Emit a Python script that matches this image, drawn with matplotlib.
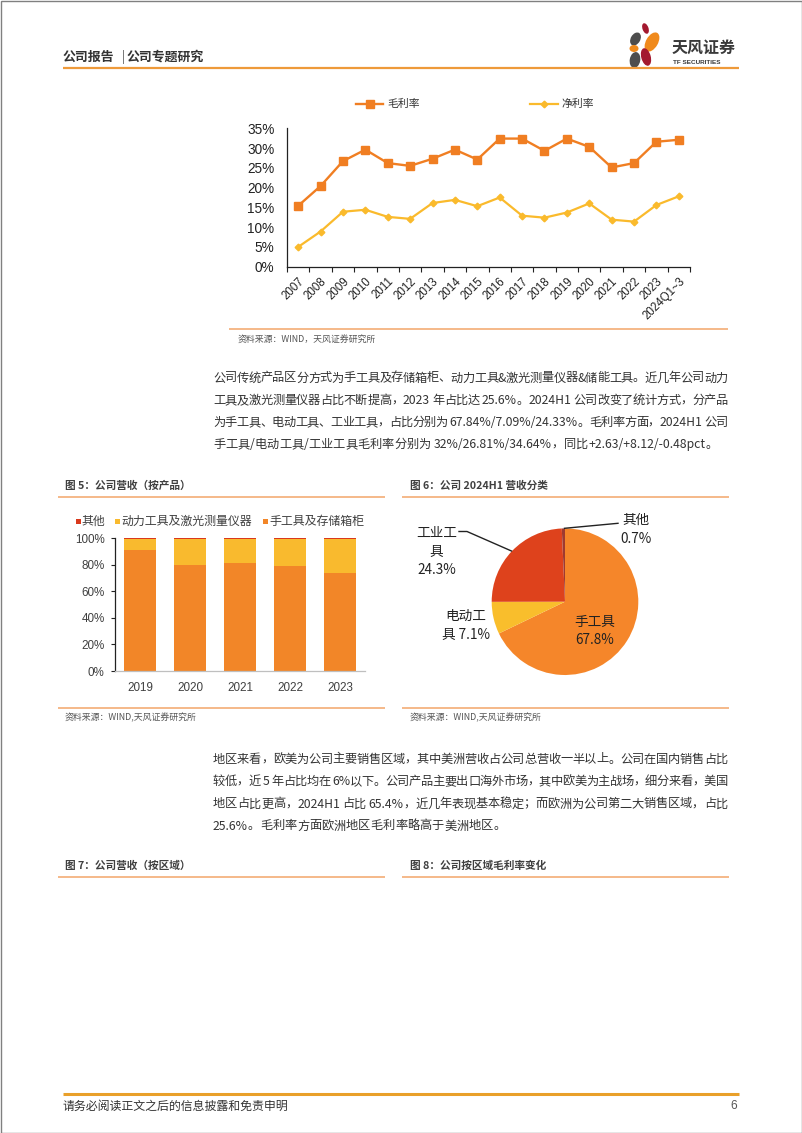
import re
import matplotlib
matplotlib.use('Agg')
import matplotlib.pyplot as plt
from matplotlib.patches import Rectangle, Ellipse
from matplotlib.font_manager import FontProperties
import numpy as np

plt.rcParams['font.family'] = ['Noto Sans CJK SC', 'DejaVu Sans']
plt.rcParams['axes.unicode_minus'] = False

NUM_FONT = ['Liberation Sans', 'Noto Sans CJK SC', 'DejaVu Sans']
CJK_FONT = ['Noto Sans CJK SC', 'DejaVu Sans']

# ---------------- data ----------------
margin_years = ['2007', '2008', '2009', '2010', '2011', '2012', '2013', '2014', '2015',
                '2016', '2017', '2018', '2019', '2020', '2021', '2022', '2023', '2024Q1~3']
gross_margin = [15.4, 20.4, 26.7, 29.6, 26.2, 25.5, 27.3, 29.6, 27.1,
                32.4, 32.4, 29.3, 32.4, 30.3, 25.1, 26.2, 31.6, 32.1]
net_margin = [5.0, 8.9, 13.9, 14.4, 12.6, 12.1, 16.1, 16.9, 15.3,
              17.5, 12.9, 12.4, 13.7, 16.0, 11.9, 11.4, 15.6, 17.8]
margin_series_names = ['毛利率', '净利率']
margin_yticks = [0, 5, 10, 15, 20, 25, 30, 35]

product_years = ['2019', '2020', '2021', '2022', '2023']
hand_tool_share = [91.2, 79.8, 81.4, 79.1, 73.6]
power_tool_share = [8.3, 19.7, 17.8, 20.2, 25.6]
other_share = [0.5, 0.5, 0.8, 0.7, 0.8]
product_series_names = ['其他', '动力工具及激光测量仪器', '手工具及存储箱柜']
share_yticks = [0, 20, 40, 60, 80, 100]

pie_names = ['手工具', '电动工具', '工业工具', '其他']
pie_shares = [67.8, 7.1, 24.3, 0.7]

# ---------------- colours ----------------
C_GROSS = '#F07E22'
C_NET = '#FABA2C'
C_HAND = '#F28628'
C_POWER = '#F9BA2E'
C_OTHER = '#D9391C'
PIE_COLORS = ['#F5862A', '#F9BE2C', '#DE421C', '#9E3A30']
C_SECTION = '#F3A66A'
C_TEXT = '#333333'

W, H = 802, 1133
fig = plt.figure(figsize=(W / 100, H / 100), dpi=100, facecolor='white')


def page_axes(z):
    a = fig.add_axes([0, 0, 1, 1], zorder=z)
    a.set_xlim(0, W)
    a.set_ylim(H, 0)
    a.axis('off')
    a.set_facecolor('none')
    return a


P = page_axes(0)      # background layer
T = page_axes(10)     # overlay layer (labels over the charts)
renderer = fig.canvas.get_renderer()


def px_axes(l, t, r, b):
    a = fig.add_axes([l / W, 1 - b / H, (r - l) / W, (b - t) / H], zorder=2)
    a.set_facecolor('none')
    return a


def hline(x0, x1, y, color, lw):
    P.plot([x0, x1], [y, y], color=color, lw=lw, solid_capstyle='butt')


def text_w(s, fs):
    prop = FontProperties(family=CJK_FONT, size=fs)
    w, h, d = renderer.get_text_width_height_descent(s, prop, ismath=False)
    return w


def adv(s, fs):
    if not s:
        return 0.0
    return text_w(s + '国', fs) - text_w('国', fs)


def is_han(ch):
    return len(ch) == 1 and '\u4e00' <= ch <= '\u9fff'


def para_line(s, y, x0, x1, fs=8.8, color=C_TEXT, justify=True):
    spans = [(m.start(), m.group()) for m in
             re.finditer(r'[A-Za-z0-9.%/+\-~&]+| +|.', s)]
    n = len(spans)
    total = adv(s, fs)
    gap = (x1 - x0 - total) / (n - 1) if (justify and n > 1) else 0.0
    for i, (st, tk) in enumerate(spans):
        if tk.isspace():
            continue
        xx = x0 + adv(s[:st], fs) + i * gap
        if is_han(tk):
            P.text(xx + adv(tk, fs) / 2, y, tk, fontsize=fs, color=color, ha='center',
                   va='center', family=CJK_FONT)
        else:
            P.text(xx, y, tk, fontsize=fs, color=color, ha='left', va='center',
                   family=CJK_FONT)


# ---------------- page frame, header, footer ----------------
P.add_patch(Rectangle((0.5, 0.5), W - 1, H - 1, fill=False, ec='#808080', lw=1.0))
P.text(63, 56.5, '公司报告', fontsize=9.3, fontweight='bold', color=C_TEXT, va='center')
P.plot([122.5, 122.5], [50, 63], color='#777777', lw=0.7)
P.text(127, 56.5, '公司专题研究', fontsize=9.3, fontweight='bold', color=C_TEXT, va='center')
hline(63, 739, 68.3, '#EE9A3A', 1.6)

# logo
petals = [((645.5, 28.5), 6, 11, -20, '#A3192F'),
          ((652, 42), 12, 21, 30, '#F08A1C'),
          ((635.5, 39), 9.5, 14, 30, '#4D4D4D'),
          ((634, 48.5), 9, 7, 0, '#F08A1C'),
          ((646, 57), 9.5, 18, -15, '#A3192F'),
          ((635, 60), 10.5, 16, 10, '#4D4D4D')]
for c, w, h, ang, col in petals:
    P.add_patch(Ellipse(c, w, h, angle=ang, color=col, lw=0))
P.text(672, 48, '天风证券', fontsize=11.5, fontweight='bold', color='#3A3A3A', va='center')
P.text(673, 62.7, 'TF SECURITIES', fontsize=4.6, fontweight='bold', color='#3A3A3A',
       va='center', family=NUM_FONT)

hline(63, 739, 1094, '#E9A02A', 2.2)
P.text(63, 1106, '请务必阅读正文之后的信息披露和免责申明', fontsize=8.6, color=C_TEXT, va='center')
P.text(737, 1106, '6', fontsize=8.6, color='#555555', va='center', ha='right', family=NUM_FONT)

# ---------------- chart 1: margins ----------------
ax1 = px_axes(287, 128.3, 690, 266.7)
x = np.arange(len(margin_years))
ax1.plot(x, gross_margin, color=C_GROSS, lw=1.7, marker='s', ms=5.8, mfc=C_GROSS, mec=C_GROSS,
         zorder=3)
ax1.plot(x, net_margin, color=C_NET, lw=1.6, marker='D', ms=3.4, mfc=C_NET, mec=C_NET, zorder=3)
ax1.set_xlim(-0.5, len(margin_years) - 0.5)
ax1.set_ylim(margin_yticks[0], margin_yticks[-1])
ax1.set_yticks(margin_yticks)
ax1.set_yticklabels([f'{v}%' for v in margin_yticks], fontsize=9.8, family=NUM_FONT, color='#222222')
ax1.tick_params(axis='y', length=0, pad=9)
ax1.set_xticks(x)
ax1.set_xticklabels(margin_years, rotation=45, ha='right', va='top', rotation_mode='anchor',
                    fontsize=8.3, family=NUM_FONT, color='#222222')
ax1.tick_params(axis='x', which='major', length=0, pad=6)
ax1.set_xticks(np.arange(-0.5, len(margin_years)), minor=True)
ax1.tick_params(axis='x', which='minor', length=3.5, width=0.8, direction='out', color='#222222')
for s in ['top', 'right']:
    ax1.spines[s].set_visible(False)
for s in ['left', 'bottom']:
    ax1.spines[s].set_color('#222222')
    ax1.spines[s].set_linewidth(0.9)

# legend
P.plot([356, 383], [104, 104], color=C_GROSS, lw=1.7)
P.plot([369.5], [104], marker='s', ms=5.8, color=C_GROSS)
P.text(387, 104, margin_series_names[0], fontsize=7.8, color=C_TEXT, va='center')
P.plot([530, 558], [104, 104], color=C_NET, lw=1.6)
P.plot([544], [104], marker='D', ms=3.4, color=C_NET)
P.text(561, 104, margin_series_names[1], fontsize=7.8, color=C_TEXT, va='center')

hline(229, 728, 329, C_SECTION, 1.1)
P.text(238, 340, '资料来源：WIND，天风证券研究所', fontsize=6.4, color='#555555', va='center')

# ---------------- paragraph 1 ----------------
p1 = ['公司传统产品区分方式为手工具及存储箱柜、动力工具&激光测量仪器&储能工具。近几年公司动力',
      '工具及激光测量仪器占比不断提高，2023 年占比达 25.6%。2024H1 公司改变了统计方式，分产品',
      '为手工具、电动工具、工业工具，占比分别为 67.84%/7.09%/24.33%。毛利率方面，2024H1 公司',
      '手工具/电动工具/工业工具毛利率分别为 32%/26.81%/34.64%，同比+2.63/+8.12/-0.48pct。']
for i, (s, y) in enumerate(zip(p1, [378, 400.5, 422.5, 444.5])):
    para_line(s, y, 213, 728, justify=(i < len(p1) - 1))

# ---------------- figure 5 / 6 titles ----------------
P.text(65, 486, '图 5：公司营收（按产品）', fontsize=7.7, fontweight='bold', color='#404040', va='center')
hline(58, 385, 496.7, C_SECTION, 1.1)
P.text(410, 486, '图 6：公司 2024H1 营收分类', fontsize=7.7, fontweight='bold', color='#404040', va='center')
hline(402, 729, 496.7, C_SECTION, 1.1)

# ---------------- chart 2: stacked bars ----------------
ax2 = px_axes(115, 538.3, 365, 671)
xb = np.arange(len(product_years))
ax2.bar(xb, hand_tool_share, width=0.64, color=C_HAND, lw=0, zorder=2)
ax2.bar(xb, power_tool_share, width=0.64, bottom=hand_tool_share, color=C_POWER, lw=0, zorder=2)
bottom2 = [a + b for a, b in zip(hand_tool_share, power_tool_share)]
ax2.bar(xb, other_share, width=0.64, bottom=bottom2, color=C_OTHER, lw=0, zorder=2)
ax2.set_xlim(-0.5, len(product_years) - 0.5)
ax2.set_ylim(0, 100)
ax2.set_yticks(share_yticks)
ax2.set_yticklabels([f'{v}%' for v in share_yticks], fontsize=8.4, family=NUM_FONT, color='#404040')
ax2.tick_params(axis='y', length=3, width=0.8, direction='out', pad=4.5, color='#222222')
ax2.set_xticks(xb)
ax2.set_xticklabels(product_years, fontsize=8.4, family=NUM_FONT, color='#404040')
ax2.tick_params(axis='x', length=0, pad=8)
for s in ['top', 'right']:
    ax2.spines[s].set_visible(False)
ax2.spines['left'].set_color('#222222')
ax2.spines['left'].set_linewidth(0.9)
ax2.spines['bottom'].set_color('#BFBFBF')
ax2.spines['bottom'].set_linewidth(0.9)

# bar legend
leg_items = [(76, 81.5, C_OTHER), (115, 121.5, C_POWER), (262.5, 269, C_HAND)]
for (sx, tx, col), name in zip(leg_items, product_series_names):
    P.add_patch(Rectangle((sx, 518.8), 5.4, 5.4, color=col, lw=0))
    P.text(tx, 521.7, name, fontsize=8.6, color='#404040', va='center')

hline(58, 385, 708, C_SECTION, 1.1)
P.text(65, 718, '资料来源：WIND,天风证券研究所', fontsize=6.4, color='#555555', va='center')

# ---------------- chart 3: pie ----------------
cx, cy, r = 565, 601.7, 73.3
ax3 = px_axes(cx - r, cy - r, cx + r, cy + r)
ax3.pie(pie_shares, colors=PIE_COLORS, startangle=90, counterclock=False, radius=1,
        wedgeprops=dict(linewidth=0))
ax3.set_xlim(-1, 1)
ax3.set_ylim(-1, 1)
ax3.axis('off')

lbl_fs = 9.8
# 工业工具
T.text(436.5, 551.5, f'{pie_names[2][:3]}\n{pie_names[2][3:]}\n{pie_shares[2]:.1f}%',
       fontsize=lbl_fs, color='#222222', ha='center', va='center', linespacing=1.45,
       family=CJK_FONT)
T.plot([459, 467, 511.5], [531.5, 531.5, 551], color='#222222', lw=1.0)
# 其他
T.text(636, 529.5, f'{pie_names[3]}\n{pie_shares[3]:.1f}%', fontsize=lbl_fs, color='#222222',
       ha='center', va='center', linespacing=1.4, family=CJK_FONT)
T.plot([564.5, 618], [528.3, 523.3], color='#222222', lw=1.0)
# 电动工具
T.text(466, 625.5, f'{pie_names[1][:3]}\n{pie_names[1][3:]} {pie_shares[1]:.1f}%',
       fontsize=lbl_fs, color='#222222', ha='center', va='center', linespacing=1.45,
       family=CJK_FONT)
# 手工具
T.text(595, 631, f'{pie_names[0]}\n{pie_shares[0]:.1f}%', fontsize=lbl_fs, color='#222222',
       ha='center', va='center', linespacing=1.3, family=CJK_FONT)

hline(402, 729, 708, C_SECTION, 1.1)
P.text(410, 718, '资料来源：WIND,天风证券研究所', fontsize=6.4, color='#555555', va='center')

# ---------------- paragraph 2 ----------------
p2 = ['地区来看，欧美为公司主要销售区域，其中美洲营收占公司总营收一半以上。公司在国内销售占比',
      '较低，近 5 年占比均在 6%以下。公司产品主要出口海外市场，其中欧美为主战场，细分来看，美国',
      '地区占比更高，2024H1 占比 65.4%，近几年表现基本稳定；而欧洲为公司第二大销售区域，占比',
      '25.6%。毛利率方面欧洲地区毛利率略高于美洲地区。']
for i, (s, y) in enumerate(zip(p2, [759, 781.5, 804, 826])):
    para_line(s, y, 213, 728, justify=(i < len(p2) - 1))

# ---------------- figure 7 / 8 titles ----------------
P.text(65, 865.7, '图 7：公司营收（按区域）', fontsize=7.7, fontweight='bold', color='#404040', va='center')
hline(58, 385, 876.7, C_SECTION, 1.1)
P.text(410, 865.7, '图 8：公司按区域毛利率变化', fontsize=7.7, fontweight='bold', color='#404040', va='center')
hline(402, 729, 876.7, C_SECTION, 1.1)

fig.savefig('out.png', dpi=100, facecolor='white')
